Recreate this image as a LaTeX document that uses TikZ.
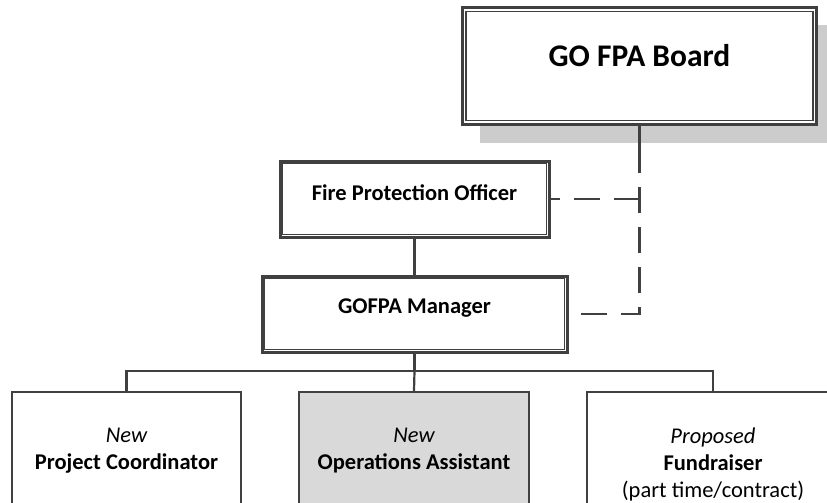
\documentclass[tikz,border=0pt]{standalone}
\usepackage{fontspec}
\setmainfont{Carlito}
\definecolor{ln}{HTML}{404040}
\definecolor{shd}{HTML}{CCCCCC}
\definecolor{opfill}{HTML}{D9D9D9}
\begin{document}
\begin{tikzpicture}[x=1pt,y=-1pt,
  frame/.style={draw=ln,line width=3pt,fill=white,inner sep=0pt},
  inframe/.style={draw=ln,line width=1.4pt},
  leaf/.style={draw=ln,line width=2.4pt,inner sep=0pt},
  conn/.style={draw=ln,line width=2.2pt},
  dconn/.style={draw=ln,line width=2.2pt,dash pattern=on 26pt off 14pt},
  lbl/.style={inner sep=0pt,align=center,font=\fontsize{22.5}{27}\selectfont}
]
\useasboundingbox (0,0) rectangle (827,503);
\clip (0,0) rectangle (827,503);
% shadow and board
\fill[shd] (480,25) rectangle (840,143);
\node[frame,minimum width=354pt,minimum height=116pt] (board) at (639.5,66) {};
\draw[inframe] ([shift={(5,5)}]board.north west) rectangle ([shift={(-5,-5)}]board.south east);
\node[inner sep=0pt,font=\fontsize{31.5}{36}\selectfont\bfseries] (boardt) at (639.5,56) {GO FPA Board};
% FPO
\node[frame,minimum width=269pt,minimum height=76pt] (fpo) at (414.5,199) {};
\draw[inframe] ([shift={(4,4)}]fpo.north west) rectangle ([shift={(-4,-4)}]fpo.south east);
\node[lbl,font=\fontsize{22.5}{27}\selectfont\bfseries] (fpot) at (414.5,193) {Fire Protection Officer};
% Manager
\node[frame,minimum width=305pt,minimum height=76pt] (mgr) at (414.5,314) {};
\draw[inframe] ([shift={(4,4)}]mgr.north west) rectangle ([shift={(-4,-4)}]mgr.south east);
\node[lbl,font=\fontsize{22.5}{27}\selectfont\bfseries] (mgrt) at (414.5,308) {GOFPA Manager};
% bottom boxes
\node[leaf,fill=white,minimum width=229pt,minimum height=140pt,anchor=north] (pc) at (126.5,391) {};
\node[leaf,fill=opfill,minimum width=230pt,minimum height=140pt,anchor=north] (oa) at (414,391) {};
\node[leaf,fill=white,minimum width=252pt,minimum height=140pt,anchor=north] (fr) at (713,391) {};
\node[lbl] (pct) at (126.5,451) {\itshape New\\\bfseries Project Coordinator};
\node[lbl] (oat) at (414,451) {\itshape New\\\bfseries Operations Assistant};
\node[lbl] (frt) at (713,464.5) {\itshape Proposed\\\bfseries Fundraiser\\(part time/contract)};
% connectors
\coordinate (bj) at (639.5,147);
\coordinate (d1) at (639.5,199);
\coordinate (d2) at (639.5,314);
\coordinate (bar) at (414.5,371);
\draw[conn] (board.south) -- (bj);
\draw[dconn] (bj) -- (d2) -- (mgr.east);
\draw[dconn] (d1) -- (fpo.east);
\draw[conn] (fpo.south) -- (mgr.north);
\draw[conn] (mgr.south) -- (bar);
\draw[conn] (pc.north) |- (bar) -| (fr.north);
\draw[conn] (bar) -- (oa.north);
\end{tikzpicture}
\end{document}
